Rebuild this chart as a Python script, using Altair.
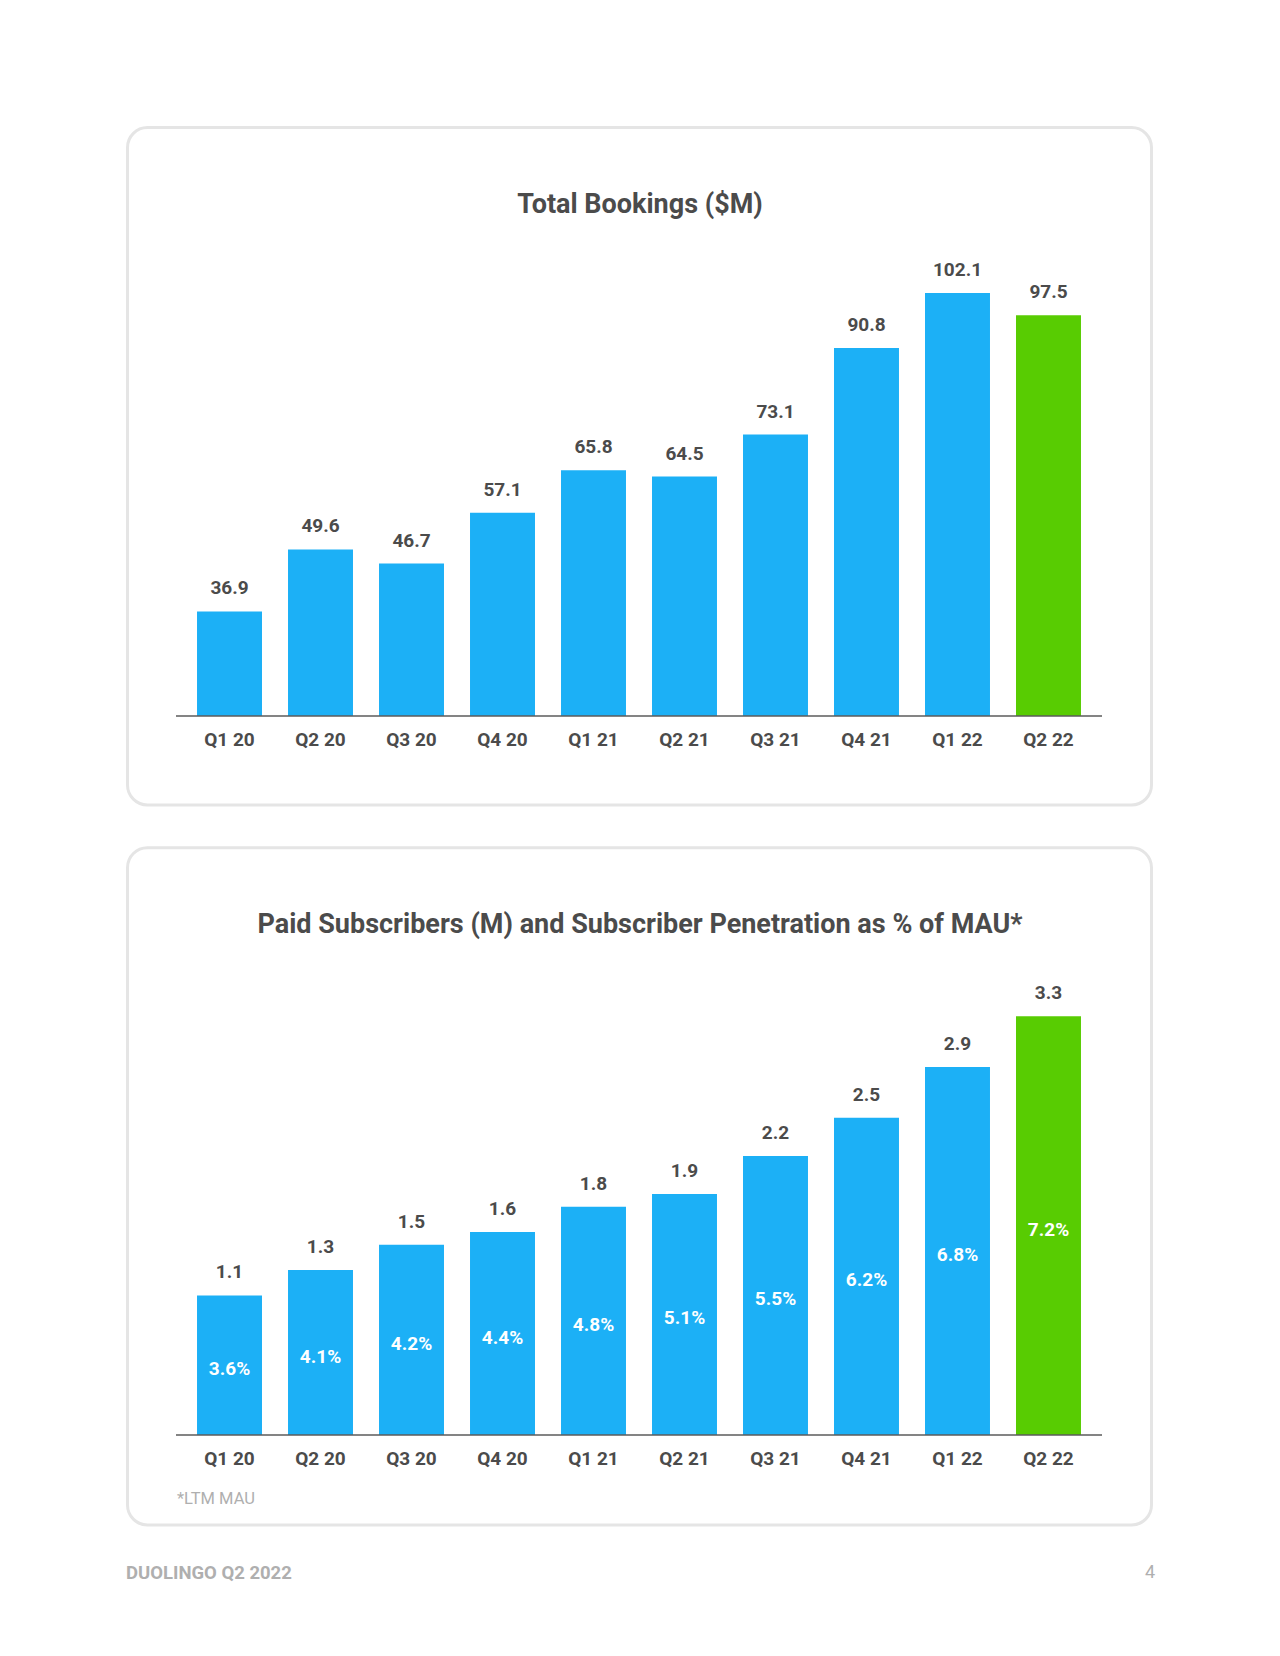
import altair as alt
import pandas as pd

# ---------------- data ----------------
quarters = ["Q1 20", "Q2 20", "Q3 20", "Q4 20", "Q1 21", "Q2 21", "Q3 21", "Q4 21", "Q1 22", "Q2 22"]
bookings = [36.9, 49.6, 46.7, 57.1, 65.8, 64.5, 73.1, 90.8, 102.1, 97.5]
subscribers = [1.1, 1.3, 1.5, 1.6, 1.8, 1.9, 2.2, 2.5, 2.9, 3.3]
penetration = [3.6, 4.1, 4.2, 4.4, 4.8, 5.1, 5.5, 6.2, 6.8, 7.2]
highlight = "Q2 22"

title_top = "Total Bookings ($M)"
title_bottom = "Paid Subscribers (M) and Subscriber Penetration as % of MAU*"
footnote = "*LTM MAU"
footer_left = "DUOLINGO Q2 2022"
footer_right = "4"

# ---------------- style ----------------
BLUE = "#1CB0F6"
GREEN = "#58CC02"
TEXT = "#4B4B4B"
LIGHT = "#AFAFAF"
CARD = "#E5E5E5"
AXIS = "#5B5B5B"
FONT = "Roboto"

df_top = pd.DataFrame({"quarter": quarters, "value": bookings})
df_bot = pd.DataFrame({"quarter": quarters, "value": subscribers, "pen": penetration})
one = pd.DataFrame({"k": [0]})

x_scale = alt.Scale(domain=quarters, range=[168, 1094], paddingInner=0.286, paddingOuter=0.231)
X = alt.X("quarter:N", sort=quarters, scale=x_scale, axis=None)

color = alt.condition(alt.datum.quarter == highlight, alt.value(GREEN), alt.value(BLUE))

txt_style = dict(baseline="middle", font=FONT, fontSize=19, fontWeight="bold")


def panel(df, y_scale, base_value, axis_y, pct=False):
    base = alt.Chart(df)
    Y = alt.Y("value:Q", scale=y_scale, axis=None)
    bar_enc = dict(x=X, y=Y, color=color)
    if base_value is not None:
        bar_enc["y2"] = alt.datum(base_value)
    bars = base.mark_bar().encode(**bar_enc)
    values = base.mark_text(dy=-23, color=TEXT, **txt_style).encode(
        x=X, y=Y, text=alt.Text("value:Q", format=".1f"))
    axis_line = alt.Chart(df.head(1)).mark_rule(color=AXIS, strokeWidth=1.5).encode(
        x=alt.value(168), x2=alt.value(1094), y=alt.value(axis_y))
    ticks = base.mark_text(color=TEXT, **txt_style).encode(
        x=X, y=alt.value(axis_y + 23.5), text="quarter:N")
    layers = [bars, values, axis_line, ticks]
    if pct:
        layers.append(
            base.transform_calculate(
                mid="datum.value / 2", pct="format(datum.pen, '.1f') + '%'"
            ).mark_text(dy=4, color="white", **txt_style).encode(
                x=X, y=alt.Y("mid:Q", scale=y_scale, axis=None), text="pct:N"))
    return alt.layer(*layers)


top = panel(df_top, alt.Scale(domain=[15.5, 110], range=[708, 246.3], zero=False), 15.5, 708)
bottom = panel(df_bot, alt.Scale(domain=[0, 3.6], range=[1427, 970.3], zero=False), None, 1427, pct=True)


# ---------- decorations ----------
def card(y0, y1):
    return alt.Chart(one).mark_rect(cornerRadius=20, fill="white", stroke=CARD, strokeWidth=3).encode(
        x=alt.value(119.5), x2=alt.value(1143.5), y=alt.value(y0), y2=alt.value(y1))


def label(txt, x, y, size, weight, col, align="center"):
    return alt.Chart(one).mark_text(font=FONT, fontSize=size, fontWeight=weight, color=col,
                                    align=align, baseline="middle").encode(
        x=alt.value(x), y=alt.value(y), text=alt.value(txt))


chart = alt.layer(
    card(119.5, 797),
    card(839.7, 1517),
    top,
    bottom,
    label(title_top, 632, 197, 27, "bold", TEXT),
    label(title_bottom, 632, 917, 27, "bold", TEXT),
    label(footnote, 169, 1491, 16.5, "normal", LIGHT, "left"),
    label(footer_left, 118, 1564.5, 18.5, "bold", LIGHT, "left"),
    label(footer_right, 1147, 1564.5, 18, "normal", LIGHT, "right"),
).resolve_scale(
    x="independent", y="independent"
).properties(
    width=1200, height=1427,
    autosize=alt.AutoSizeParams(type="none"),
    padding={"left": 0, "right": 0, "top": 0, "bottom": 190},
    background="white",
).configure_view(stroke=None)

chart.save("out.html", embed_options={"renderer": "svg", "actions": False})
